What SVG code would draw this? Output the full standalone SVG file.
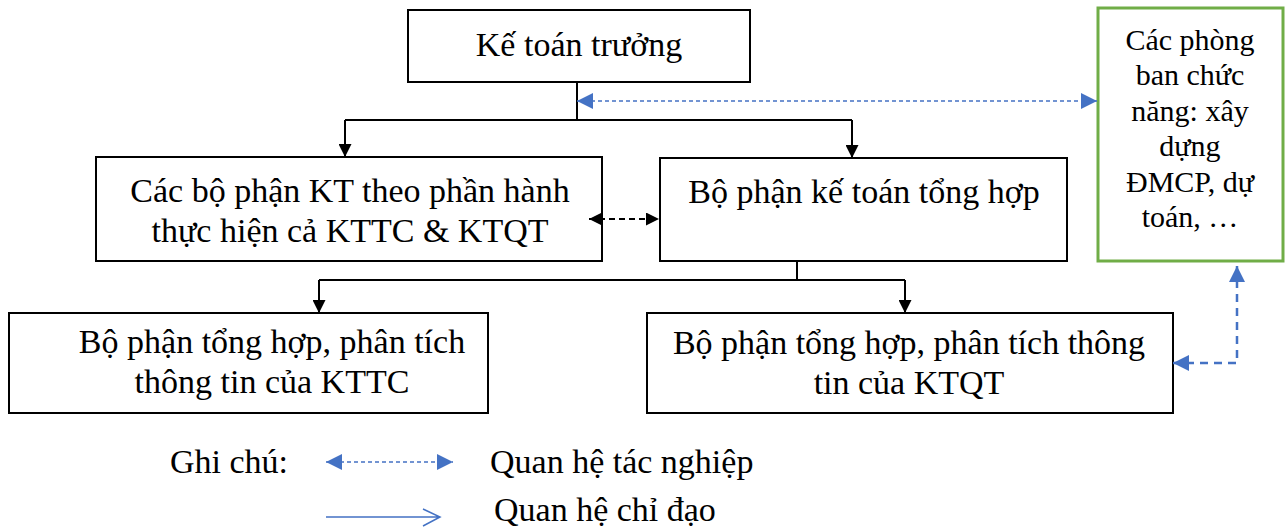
<svg xmlns="http://www.w3.org/2000/svg" width="1288" height="530" viewBox="0 0 1288 530">
  <style>
    .box { fill: #ffffff; stroke: #000000; stroke-width: 2; }
    .green { fill: #ffffff; stroke: #70AD47; stroke-width: 3; }
    .lbl { font-family: "Liberation Serif", "Times New Roman", serif; font-size: 34px; fill: #000000; text-anchor: middle; }
    .small { font-size: 30px; }
    .left { text-anchor: start; }
    .solid { fill: none; stroke: #000000; stroke-width: 2; }
    .bdash { fill: none; stroke: #000000; stroke-width: 2; stroke-dasharray: 6 4; }
    .blue-thin { fill: none; stroke: #4472C4; stroke-width: 1.5; stroke-dasharray: 4 3; }
    .blue-thick { fill: none; stroke: #4472C4; stroke-width: 2.5; stroke-dasharray: 8 6; }
    .blue-line { fill: none; stroke: #4472C4; stroke-width: 1.5; }
  </style>
  <defs>
    <marker id="blk" viewBox="0 0 13 13" refX="13" refY="6.5" markerWidth="13" markerHeight="13" markerUnits="userSpaceOnUse" orient="auto-start-reverse">
      <path d="M0,0 L13,6.5 L0,13 Z" fill="#000000"/>
    </marker>
    <marker id="blu" viewBox="0 0 16 16" refX="16" refY="8" markerWidth="16" markerHeight="16" markerUnits="userSpaceOnUse" orient="auto-start-reverse">
      <path d="M0,0 L16,8 L0,16 Z" fill="#4472C4"/>
    </marker>
  </defs>

  <g id="ke-toan-truong">
    <rect class="box" x="408" y="10" width="342" height="72"/>
    <text class="lbl" x="579" y="56">Kế toán trưởng</text>
  </g>

  <g id="cac-bo-phan-kt">
    <rect class="box" x="96" y="157" width="506" height="104"/>
    <text class="lbl" x="350" y="202">Các bộ phận KT theo phần hành</text>
    <text class="lbl" x="350" y="242">thực hiện cả KTTC &amp; KTQT</text>
  </g>

  <g id="ke-toan-tong-hop">
    <rect class="box" x="660" y="158" width="407" height="103"/>
    <text class="lbl" x="864" y="203">Bộ phận kế toán tổng hợp</text>
  </g>

  <g id="phan-tich-kttc">
    <rect class="box" x="9" y="313" width="479" height="100"/>
    <text class="lbl" x="272" y="353">Bộ phận tổng hợp, phân tích</text>
    <text class="lbl" x="272" y="393">thông tin của KTTC</text>
  </g>

  <g id="phan-tich-ktqt">
    <rect class="box" x="647" y="313" width="526" height="100"/>
    <text class="lbl" x="909" y="354">Bộ phận tổng hợp, phân tích thông</text>
    <text class="lbl" x="909" y="394">tin của KTQT</text>
  </g>

  <g id="phong-ban-chuc-nang">
    <rect class="green" x="1098" y="8" width="185" height="253"/>
    <text class="lbl small" x="1190" y="50">Các phòng</text>
    <text class="lbl small" x="1190" y="85">ban chức</text>
    <text class="lbl small" x="1190" y="121">năng: xây</text>
    <text class="lbl small" x="1190" y="156">dựng</text>
    <text class="lbl small" x="1190" y="192">ĐMCP, dự</text>
    <text class="lbl small" x="1190" y="227">toán, …</text>
  </g>

  <!-- connectors, drawn over the boxes so arrowheads touching edges stay visible -->
  <g id="connectors">
    <!-- chief accountant to the two departments -->
    <path class="solid" d="M577,82 V120"/>
    <path class="solid" d="M345,120 H852"/>
    <path class="solid" d="M345,120 V157" marker-end="url(#blk)"/>
    <path class="solid" d="M852,120 V158" marker-end="url(#blk)"/>
    <!-- general accounting to the two analysis units -->
    <path class="solid" d="M797,261 V280"/>
    <path class="solid" d="M319,280 H905"/>
    <path class="solid" d="M319,280 V313" marker-end="url(#blk)"/>
    <path class="solid" d="M905,280 V313" marker-end="url(#blk)"/>
    <!-- link between the two departments -->
    <path class="bdash" d="M589,219 H659" marker-start="url(#blk)" marker-end="url(#blk)"/>
    <!-- working relations with functional offices -->
    <path class="blue-thin" d="M577,101 H1097" marker-start="url(#blu)" marker-end="url(#blu)"/>
    <path class="blue-thick" d="M1237,266 V363 H1173" marker-start="url(#blu)" marker-end="url(#blu)"/>
  </g>

  <!-- legend -->
  <g id="legend">
    <text class="lbl left" x="170" y="473">Ghi chú:</text>
    <path class="blue-thin" d="M326,462 H453" marker-start="url(#blu)" marker-end="url(#blu)"/>
    <text class="lbl left" x="490" y="473">Quan hệ tác nghiệp</text>
    <path class="blue-line" d="M326,517 H440 M423,509 L440,517 L423,526"/>
    <text class="lbl left" x="494" y="521">Quan hệ chỉ đạo</text>
  </g>
</svg>
